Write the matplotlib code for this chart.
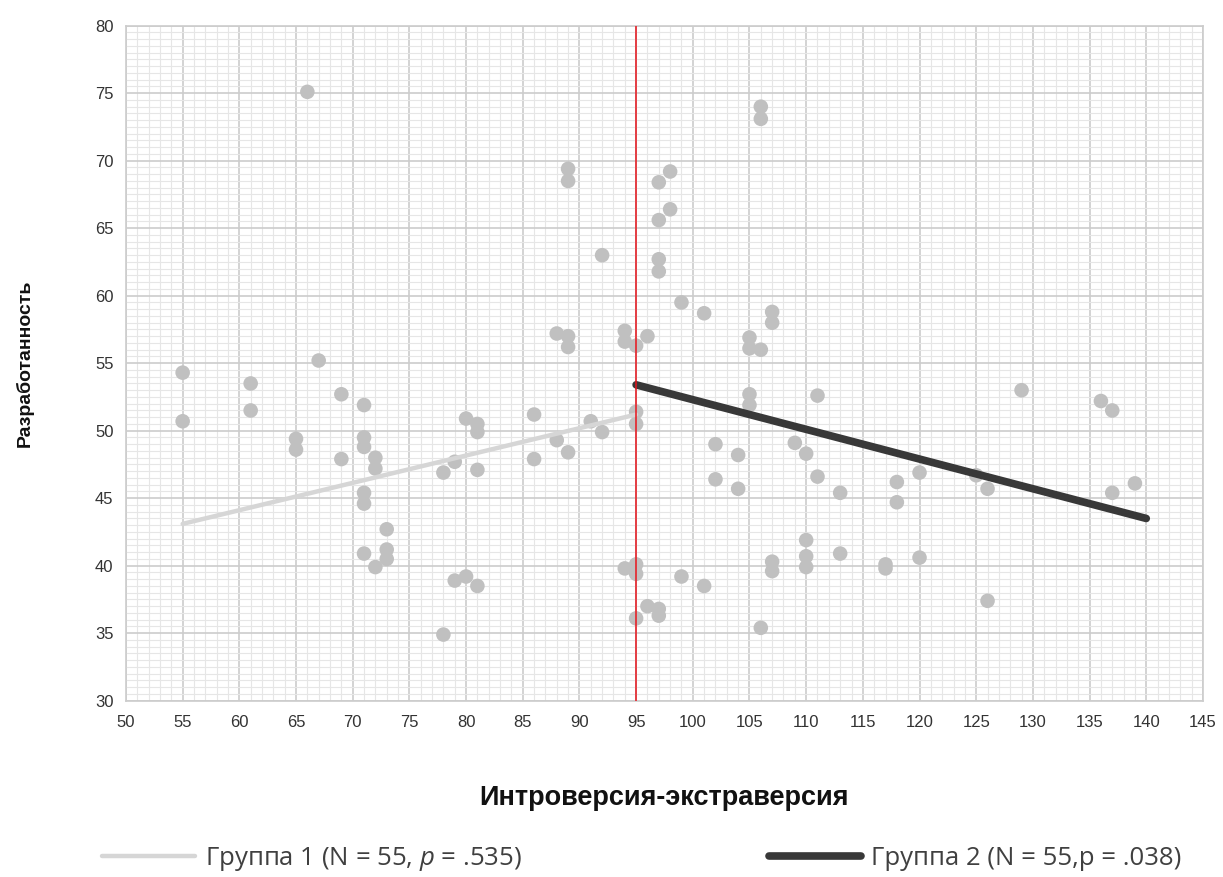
import numpy as np
import matplotlib
matplotlib.use("Agg")
import matplotlib.pyplot as plt
from matplotlib.ticker import MultipleLocator

# group 1 (left of cut-off) and group 2 (right of cut-off)
x1 = [55, 55, 61, 61, 65, 65, 66, 67, 69, 69, 71, 71, 71, 71, 71, 71, 72, 72, 72,
      73, 73, 73, 78, 78, 79, 79, 80, 80, 81, 81, 81, 81, 86, 86, 88, 88, 89, 89,
      89, 89, 89, 91, 92, 92, 94, 94, 94, 95, 95, 95, 95, 95, 95]
y1 = [54.3, 50.7, 53.5, 51.5, 49.4, 48.6, 75.1, 55.2, 52.7, 47.9, 51.9, 49.5, 48.8,
      45.4, 44.6, 40.9, 48.0, 47.2, 39.9, 42.7, 41.2, 40.5, 46.9, 34.9, 47.7, 38.9,
      50.9, 39.2, 50.5, 49.9, 47.1, 38.5, 51.2, 47.9, 57.2, 49.3, 69.4, 68.5, 57.0,
      56.2, 48.4, 50.7, 63.0, 49.9, 57.4, 56.6, 39.8, 56.3, 51.4, 50.5, 40.1, 39.4,
      36.1]

x2 = [96, 96, 97, 97, 97, 97, 97, 97, 98, 98, 99, 99, 101, 101, 102, 102, 104, 104,
      105, 105, 105, 105, 106, 106, 106, 106, 107, 107, 107, 107, 109, 110, 110, 110,
      110, 111, 111, 113, 113, 117, 117, 118, 118, 120, 120, 125, 126, 126, 129, 136,
      137, 137, 139]
y2 = [57.0, 37.0, 68.4, 65.6, 62.7, 61.8, 36.8, 36.3, 69.2, 66.4, 59.5, 39.2, 58.7,
      38.5, 49.0, 46.4, 48.2, 45.7, 56.9, 56.1, 52.7, 51.9, 74.0, 73.1, 56.0, 35.4,
      58.8, 58.0, 40.3, 39.6, 49.1, 48.3, 41.9, 40.7, 39.9, 52.6, 46.6, 45.4, 40.9,
      40.1, 39.8, 46.2, 44.7, 46.9, 40.6, 46.7, 45.7, 37.4, 53.0, 52.2, 51.5, 45.4,
      46.1]

# regression lines (end points)
fit1_x = [55, 95]
fit1_y = [43.1, 51.2]
fit2_x = [95, 140]
fit2_y = [53.4, 43.5]
cutoff = 95

label1 = "Группа 1 (N = 55, $p$ = .535)"
label2 = "Группа 2 (N = 55,p = .038)"

plt.rcParams['font.family'] = ['Liberation Sans', 'DejaVu Sans']
plt.rcParams['mathtext.fontset'] = 'custom'
plt.rcParams['mathtext.it'] = 'Open Sans:italic'
plt.rcParams['mathtext.rm'] = 'Open Sans'

fig = plt.figure(figsize=(12.23, 8.77), dpi=100)
ax = fig.add_axes([0.103, 0.201, 0.8806, 0.7697])

ax.scatter(x1 + x2, y1 + y2, s=110, color='#c0c0c0', edgecolors='none', zorder=3)

l1, = ax.plot(fit1_x, fit1_y, color='#d6d6d6', lw=3.2, solid_capstyle='round',
              zorder=4, label=label1)
l2, = ax.plot(fit2_x, fit2_y, color='#383838', lw=5.5, solid_capstyle='round',
              zorder=4, label=label2)
ax.axvline(cutoff, color='#e8141c', lw=1.1, zorder=5)

ax.set_xlim(50, 145)
ax.set_ylim(30, 80)
ax.xaxis.set_major_locator(MultipleLocator(5))
ax.yaxis.set_major_locator(MultipleLocator(5))
ax.xaxis.set_minor_locator(MultipleLocator(1))
ax.yaxis.set_minor_locator(MultipleLocator(0.5))
ax.grid(which='major', color='#cccccc', lw=1.2, zorder=1)
ax.grid(which='minor', color='#e6e6e6', lw=0.8, zorder=0)
ax.set_axisbelow(True)
for sp in ax.spines.values():
    sp.set_color('#cccccc')
    sp.set_linewidth(1.2)
ax.tick_params(which='both', length=0)
ax.tick_params(axis='x', pad=10, labelsize=12, labelcolor='#333333')
ax.tick_params(axis='y', pad=9, labelsize=12, labelcolor='#333333')

ax.set_xlabel("Интроверсия-экстраверсия", fontsize=19.5, fontweight='bold',
              color='#111111', labelpad=40)
ax.set_ylabel("Разработанность", fontsize=14, fontweight='bold',
              color='#111111', labelpad=44)

fig.legend(handles=[l1, l2], loc='center', bbox_to_anchor=(0.525, 0.02), ncol=2,
           frameon=False, handlelength=3.6, handletextpad=0.4, columnspacing=9.6,
           prop={'family': ['Open Sans', 'DejaVu Sans'], 'size': 18.5},
           labelcolor='#404040')

fig.savefig("out.png", dpi=100)
